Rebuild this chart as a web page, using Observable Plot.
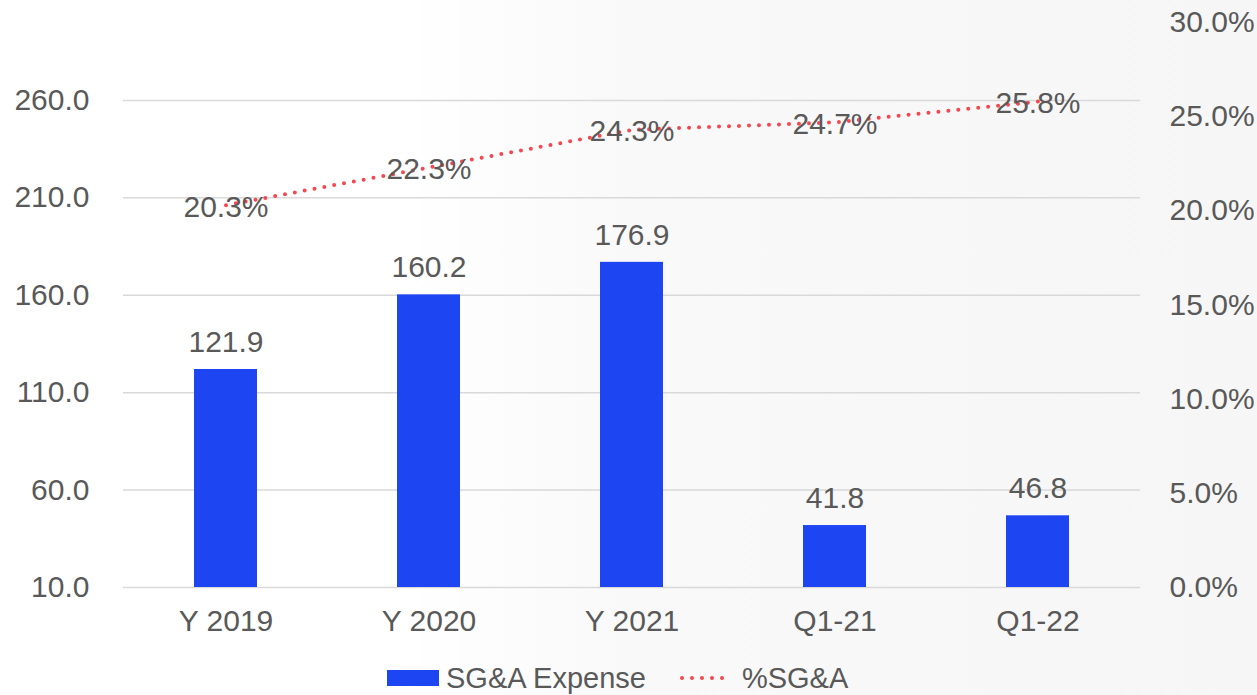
<!DOCTYPE html>
<html>
<head>
<meta charset="utf-8">
<script src="https://cdn.jsdelivr.net/npm/d3@7"></script>
<script src="https://cdn.jsdelivr.net/npm/@observablehq/plot@0.6"></script>
<style>
  html, body { margin: 0; padding: 0; }
  body {
    width: 1257px; height: 695px; overflow: hidden;
    background: linear-gradient(to right, #ffffff 0%, #ffffff 32%, #f9f9f9 50%, #f6f6f6 100%);
    font-family: "Liberation Sans", Arial, sans-serif;
    color: #595959;
  }
  #legend {
    display: flex; align-items: center; height: 46px;
    margin-left: 387px; font-size: 29px; color: #595959;
  }
  #legend .item { display: flex; align-items: center; }
  #legend svg { display: block; }
</style>
</head>
<body>
<div id="chart"></div>
<div id="legend"></div>
<script>
const categories = ["Y 2019", "Y 2020", "Y 2021", "Q1-21", "Q1-22"];
const expense = [121.9, 160.2, 176.9, 41.8, 46.8];
const pctSGA = [20.3, 22.3, 24.3, 24.7, 25.8];
const leftTicks = [10, 60, 110, 160, 210, 260];
const rightTicks = [0, 5, 10, 15, 20, 25, 30];

const leftDomain = [10, 300];
const rightDomain = [0, 30];
const toLeft = p => leftDomain[0] + (p - rightDomain[0]) / (rightDomain[1] - rightDomain[0]) * (leftDomain[1] - leftDomain[0]);
const fromLeft = v => rightDomain[0] + (v - leftDomain[0]) / (leftDomain[1] - leftDomain[0]) * (rightDomain[1] - rightDomain[0]);

const data = categories.map((c, i) => ({cat: c, exp: expense[i], pct: pctSGA[i]}));

const BLUE = "#1e45f2";
const RED = "#f5474f";
const TEXT = "#595959";
const FS = 30;

const chart = Plot.plot({
  width: 1257,
  height: 655,
  marginTop: 22,
  marginBottom: 68,
  marginLeft: 123,
  marginRight: 117,
  style: {fontFamily: "'Liberation Sans', Arial, sans-serif", fontSize: FS + "px", color: TEXT, background: "transparent", overflow: "visible"},
  x: {domain: categories, padding: 0, label: null},
  y: {domain: leftDomain, label: null},
  marks: [
    Plot.ruleY(leftTicks, {stroke: "#d9d9d9", strokeWidth: 1.5}),
    Plot.barY(data, {x: "cat", y1: leftDomain[0], y2: "exp", fill: BLUE, insetLeft: 70, insetRight: 70}),
    Plot.text(data, {x: "cat", y: "exp", text: d => d.exp.toFixed(1), dy: -27, fill: TEXT, fontSize: FS}),
    Plot.line(data, {x: "cat", y: d => toLeft(d.pct), stroke: RED, strokeWidth: 4, strokeDasharray: "0 10", strokeLinecap: "round"}),
    Plot.text(data, {x: "cat", y: d => toLeft(d.pct), text: d => d.pct.toFixed(1) + "%", dy: 2, fill: TEXT, fontSize: FS}),
    Plot.axisY(leftTicks, {anchor: "left", tickSize: 0, tickPadding: 34, tickFormat: d => d.toFixed(1), label: null, fill: TEXT, fontSize: FS}),
    Plot.axisY(rightTicks.map(toLeft), {anchor: "right", tickSize: 0, tickPadding: 29, tickFormat: v => fromLeft(v).toFixed(1) + "%", label: null, fill: TEXT, fontSize: FS}),
    Plot.axisX({tickSize: 0, tickPadding: 22, label: null, fill: TEXT, fontSize: FS})
  ]
});
document.getElementById("chart").appendChild(chart);

const legend = document.getElementById("legend");
legend.innerHTML = `
  <div class="item">
    <svg width="52" height="16"><rect x="0" y="0" width="52" height="16" fill="${BLUE}"></rect></svg>
    <span style="margin-left:7px">SG&amp;A Expense</span>
  </div>
  <div class="item" style="margin-left:34px">
    <svg width="54" height="16"><line x1="2" x2="52" y1="8" y2="8" stroke="${RED}" stroke-width="4" stroke-dasharray="0 10" stroke-linecap="round"></line></svg>
    <span style="margin-left:8px">%SG&amp;A</span>
  </div>`;
</script>
</body>
</html>
